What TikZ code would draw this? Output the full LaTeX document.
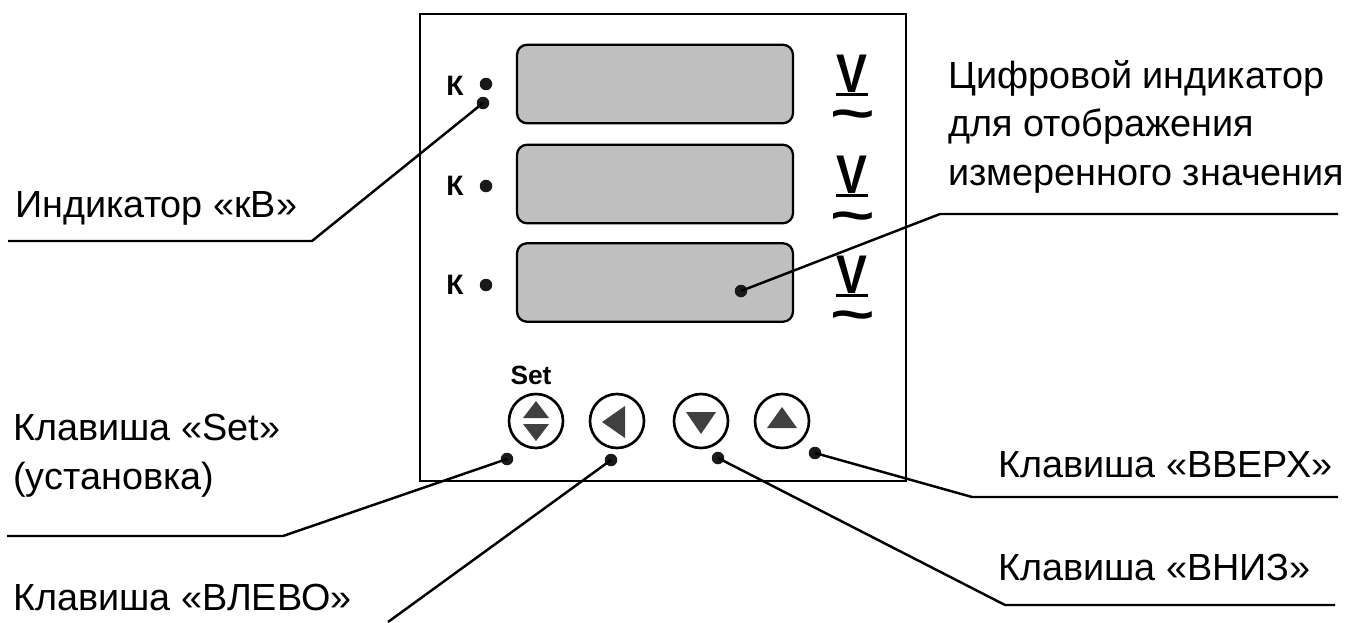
\documentclass[tikz,border=0pt]{standalone}
\usepackage{fontspec}
\setmainfont{Liberation Sans}
\usetikzlibrary{positioning}
\tikzset{
    panel/.style = {rectangle, line width=1.3pt, draw=black, minimum width=9.72cm, minimum height=9.34cm},
    display/.style = {rectangle, line width=1.3pt, draw=black, rounded corners=0.2cm, minimum width=5.52cm, minimum height=1.57cm, fill=black!25},
    keydot/.style = {circle, fill=black!90, inner sep=0pt, minimum size=0.25cm},
    button/.style = {circle, line width=1.5pt, draw=black, fill=white, minimum size=1.08cm, inner sep=0pt},
    arrowtri/.style = {fill=black!75},
    leader/.style = {line width=1.4pt, line join=miter},
    caption/.style = {inner sep=0pt, anchor=base west, align=left, font=\fontsize{21.5}{27.5}\selectfont},
    kmark/.style = {inner sep=0pt, anchor=base, font=\bfseries\fontsize{16}{16}\selectfont},
    settext/.style = {inner sep=0pt, anchor=base, font=\bfseries\fontsize{15}{15}\selectfont},
    vmark/.style = {inner sep=0pt, anchor=base, font=\bfseries\fontsize{31}{31}\selectfont},
    wave/.style = {inner sep=0pt, anchor=base, font=\bfseries\fontsize{30}{30}\selectfont},
    uline/.style = {line width=1.6pt}
}
\begin{document}
\begin{tikzpicture}[x=0.02cm, y=-0.02cm]
\useasboundingbox (0,0) rectangle (1362,622);
%
\node[panel] (frame) at (663,247.5) {};
\node[display] (disp1) at (655,84) {};
\node[display] (disp2) at (655,184) {};
\node[display] (disp3) at (655,282.5) {};
%
\node[kmark] (k1) at (455,95) {К};
\node[kmark] (k2) at (455,195) {К};
\node[kmark] (k3) at (455,294) {К};
\node[keydot] (kdot1) at (486,84) {};
\node[keydot] (kdot2) at (486,186) {};
\node[keydot] (kdot3) at (486,285) {};
\node[keydot] (kvdot) at (483,103) {};
%
\node[vmark] (v1) at (852,92) {\scalebox{0.85}[1]{V}};
\node[vmark] (v2) at (852,193) {\scalebox{0.85}[1]{V}};
\node[vmark] (v3) at (852,293) {\scalebox{0.85}[1]{V}};
\draw[uline] ([yshift=-1.3pt]v1.base west) -- ([yshift=-1.3pt]v1.base east);
\draw[uline] ([yshift=-1.3pt]v2.base west) -- ([yshift=-1.3pt]v2.base east);
\draw[uline] ([yshift=-1.3pt]v3.base west) -- ([yshift=-1.3pt]v3.base east);
\node[wave] (t1) at (853,131) {\scalebox{1.45}[1]{\textasciitilde}};
\node[wave] (t2) at (853,233) {\scalebox{1.45}[1]{\textasciitilde}};
\node[wave] (t3) at (853,332) {\scalebox{1.45}[1]{\textasciitilde}};
\node[keydot] (dispdot) at (741,291) {};
%
\node[settext] (setlbl) at (531,384) {Set};
\node[button] (bset) at (536,421) {};
\node[button] (bleft) at (617,421) {};
\node[button] (bdown) at (701,421) {};
\node[button] (bup) at (782,421) {};
\fill[arrowtri] (bset) ++(-13,-3) -- ++(26,0) -- ++(-13,-17) -- cycle;
\fill[arrowtri] (bset) ++(-13,3) -- ++(26,0) -- ++(-13,17) -- cycle;
\fill[arrowtri] (bleft) ++(-15,1) -- ++(23,-16) -- ++(0,32) -- cycle;
\fill[arrowtri] (bdown) ++(-15,-9) -- ++(30,0) -- ++(-15,22) -- cycle;
\fill[arrowtri] (bup) ++(-15,7) -- ++(30,0) -- ++(-15,-21) -- cycle;
\node[keydot] (setdot) at (507,459) {};
\node[keydot] (leftdot) at (611,460) {};
\node[keydot] (downdot) at (718,458) {};
\node[keydot] (updot) at (815,453) {};
%
\node[caption] (kvcap) at (15,217) {Индикатор «кВ»};
\node[caption] (dispcap) at (948,185) {Цифровой индикатор\\для отображения\\измеренного значения};
\node[caption] (setcap) at (13,489) {Клавиша «Set»\\(установка)};
\node[caption] (leftcap) at (13,610) {Клавиша «ВЛЕВО»};
\node[caption] (upcap) at (998,477) {Клавиша «ВВЕРХ»};
\node[caption] (downcap) at (998,580) {Клавиша «ВНИЗ»};
%
\coordinate (kvknee) at (312,241);
\coordinate (kvend) at (8,241);
\coordinate (dispknee) at (940,214);
\coordinate (dispend) at (1338,214);
\coordinate (setknee) at (283,536);
\coordinate (setend) at (7,536);
\coordinate (leftend) at (388,622);
\coordinate (downknee) at (1005,605);
\coordinate (downend) at (1335,605);
\coordinate (upknee) at (972,497);
\coordinate (upend) at (1338,497);
%
\draw[leader] (kvdot.center) -- (kvknee) -- (kvend);
\draw[leader] (dispdot.center) -- (dispknee) -- (dispend);
\draw[leader] (setdot.center) -- (setknee) -- (setend);
\draw[leader] (leftdot.center) -- (leftend);
\draw[leader] (downdot.center) -- (downknee) -- (downend);
\draw[leader] (updot.center) -- (upknee) -- (upend);

\end{tikzpicture}
\end{document}
